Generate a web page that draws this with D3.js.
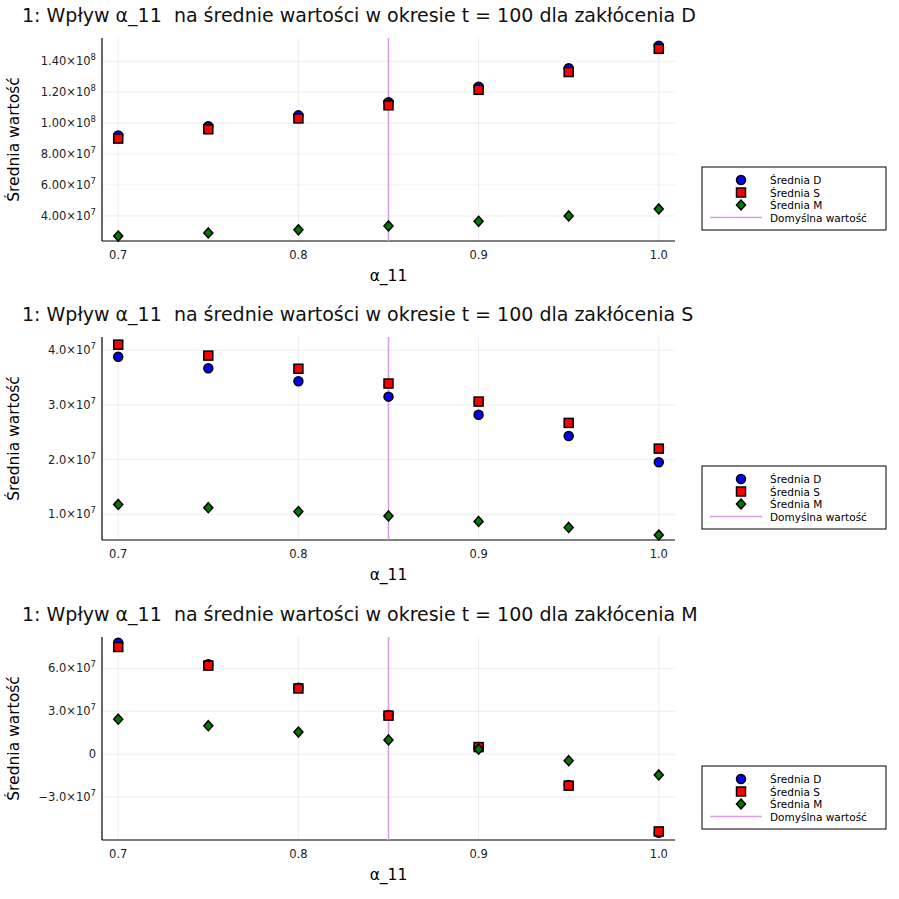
<!DOCTYPE html>
<html><head><meta charset="utf-8">
<script src="https://cdn.jsdelivr.net/npm/d3@7"></script>
<style>body{margin:0;background:#fff;font-family:"DejaVu Sans",sans-serif;}</style>
</head><body><svg id="chart" width="899" height="899"></svg>
<script>
// alpha_11 values on the x axis
var alphas = [0.7, 0.75, 0.8, 0.85, 0.9, 0.95, 1.0];
var defaultAlpha = 0.85;

// panel 1: shock D
var d1 = [9.2e7, 9.8e7, 1.05e8, 1.135e8, 1.235e8, 1.355e8, 1.50e8];
var s1 = [9.0e7, 9.6e7, 1.03e8, 1.115e8, 1.215e8, 1.33e8, 1.48e8];
var m1 = [2.7e7, 2.9e7, 3.1e7, 3.35e7, 3.65e7, 4.0e7, 4.45e7];
// panel 2: shock S
var d2 = [3.88e7, 3.67e7, 3.43e7, 3.15e7, 2.82e7, 2.43e7, 1.95e7];
var s2 = [4.1e7, 3.9e7, 3.66e7, 3.39e7, 3.06e7, 2.67e7, 2.2e7];
var m2 = [1.18e7, 1.12e7, 1.05e7, 0.97e7, 0.87e7, 0.76e7, 0.62e7];
// panel 3: shock M
var d3v = [7.8e7, 6.3e7, 4.65e7, 2.75e7, 0.5e7, -2.15e7, -5.5e7];
var s3 = [7.5e7, 6.2e7, 4.6e7, 2.7e7, 0.5e7, -2.2e7, -5.4e7];
var m3 = [2.45e7, 2.0e7, 1.55e7, 1.0e7, 0.35e7, -0.45e7, -1.45e7];

var xTicks = [0.7, 0.8, 0.9, 1.0];
var legendNames = ["Średnia D", "Średnia S", "Średnia M", "Domyślna wartość"];

var panels = [
  {shock: "D", d: d1, s: s1, m: m1, top: 38, ydom: [2.38e7, 1.55e8],
   ticks: [4e7, 6e7, 8e7, 1.0e8, 1.2e8, 1.4e8], dec: 2},
  {shock: "S", d: d2, s: s2, m: m2, top: 337, ydom: [0.53e7, 4.24e7],
   ticks: [1e7, 2e7, 3e7, 4e7], dec: 1},
  {shock: "M", d: d3v, s: s3, m: m3, top: 637, ydom: [-6.0e7, 8.2e7],
   ticks: [-3e7, 0, 3e7, 6e7], dec: 1}
];

var svg = d3.select("#chart");
var left = 102, right = 675, ph = 203;
var x = d3.scaleLinear().domain([0.691, 1.009]).range([left, right]);

function tickLabel(g, v, dec) {
  var t = g.append("text").attr("text-anchor", "end").attr("font-size", 11.5).attr("fill", "#222");
  if (v === 0) { t.text("0"); return; }
  var e = Math.floor(Math.log10(Math.abs(v)));
  var mant = v / Math.pow(10, e);
  t.append("tspan").text((v < 0 ? "\u2212" + (-mant).toFixed(dec) : mant.toFixed(dec)) + "×10");
  t.append("tspan").attr("font-size", 8.5).attr("dy", -5).text(e);
}

panels.forEach(function(p) {
  var top = p.top, bottom = top + ph;
  var y = d3.scaleLinear().domain(p.ydom).range([bottom, top]);
  var g = svg.append("g");

  g.append("text").attr("x", 22).attr("y", top - 16).attr("font-size", 19).attr("fill", "#111")
    .style("white-space", "pre").attr("xml:space", "preserve")
    .text("1: Wpływ α_11  na średnie wartości w okresie t = 100 dla zakłócenia " + p.shock);

  // grid
  xTicks.forEach(function(t) {
    g.append("line").attr("x1", x(t)).attr("x2", x(t)).attr("y1", top).attr("y2", bottom)
      .attr("stroke", "#000").attr("stroke-opacity", 0.07);
    g.append("text").attr("x", x(t)).attr("y", bottom + 18).attr("text-anchor", "middle")
      .attr("font-size", 11.5).attr("fill", "#222").text(t.toFixed(1));
  });
  p.ticks.forEach(function(t) {
    g.append("line").attr("x1", left).attr("x2", right).attr("y1", y(t)).attr("y2", y(t))
      .attr("stroke", "#000").attr("stroke-opacity", 0.07);
    var tg = g.append("g").attr("transform", "translate(" + (left - 6) + "," + (y(t) + 4) + ")");
    tickLabel(tg, t, p.dec);
  });
  g.append("line").attr("x1", left).attr("x2", left).attr("y1", top).attr("y2", bottom).attr("stroke", "#000").attr("stroke-width", 1.2);
  g.append("line").attr("x1", left).attr("x2", right).attr("y1", bottom).attr("y2", bottom).attr("stroke", "#000").attr("stroke-width", 1.2);

  g.append("text").attr("x", (left + right) / 2).attr("y", bottom + 40).attr("text-anchor", "middle")
    .attr("font-size", 15.5).text("α_11");
  g.append("text").attr("transform", "translate(19," + (top + ph / 2) + ") rotate(-90)")
    .attr("text-anchor", "middle").attr("font-size", 15.5).text("Średnia wartość");

  // default value line
  g.append("line").attr("x1", x(defaultAlpha)).attr("x2", x(defaultAlpha)).attr("y1", top).attr("y2", bottom)
    .attr("stroke", "#d7a0e3").attr("stroke-width", 1.6);

  g.selectAll(".cd").data(p.d).enter().append("circle")
    .attr("cx", function(d, i) { return x(alphas[i]); }).attr("cy", function(d) { return y(d); })
    .attr("r", 4.5).attr("fill", "#0000ff").attr("stroke", "#000").attr("stroke-width", 1.5);
  g.selectAll(".sq").data(p.s).enter().append("rect")
    .attr("x", function(d, i) { return x(alphas[i]) - 4.5; }).attr("y", function(d) { return y(d) - 4.5; })
    .attr("width", 9).attr("height", 9).attr("fill", "#ff0000").attr("stroke", "#000").attr("stroke-width", 1.5);
  g.selectAll(".dm").data(p.m).enter().append("path")
    .attr("d", function(d, i) { var cx = x(alphas[i]), cy = y(d);
      return "M" + cx + "," + (cy - 5) + "L" + (cx + 4.5) + "," + cy + "L" + cx + "," + (cy + 5) + "L" + (cx - 4.5) + "," + cy + "Z"; })
    .attr("fill", "#007a00").attr("stroke", "#000").attr("stroke-width", 1.5);

  // legend
  var ly = top + 129;
  var lg = g.append("g").attr("transform", "translate(702," + ly + ")");
  lg.append("rect").attr("width", 184).attr("height", 63).attr("fill", "#fff").attr("stroke", "#000").attr("stroke-width", 1);
  legendNames.forEach(function(n, i) {
    var yy = 13 + i * 12.5, cx = 39;
    if (i === 0) lg.append("circle").attr("cx", cx).attr("cy", yy).attr("r", 4.5).attr("fill", "#0000ff").attr("stroke", "#000").attr("stroke-width", 1.5);
    if (i === 1) lg.append("rect").attr("x", cx - 4.5).attr("y", yy - 4.5).attr("width", 9).attr("height", 9).attr("fill", "#ff0000").attr("stroke", "#000").attr("stroke-width", 1.5);
    if (i === 2) lg.append("path").attr("d", "M" + cx + "," + (yy - 5) + "L" + (cx + 4.5) + "," + yy + "L" + cx + "," + (yy + 5) + "L" + (cx - 4.5) + "," + yy + "Z").attr("fill", "#007a00").attr("stroke", "#000").attr("stroke-width", 1.5);
    if (i === 3) lg.append("line").attr("x1", 8).attr("x2", 60).attr("y1", yy).attr("y2", yy).attr("stroke", "#d7a0e3").attr("stroke-width", 1.5);
    lg.append("text").attr("x", 68).attr("y", yy + 4).attr("font-size", 10.5).text(n);
  });
});
</script></body></html>
